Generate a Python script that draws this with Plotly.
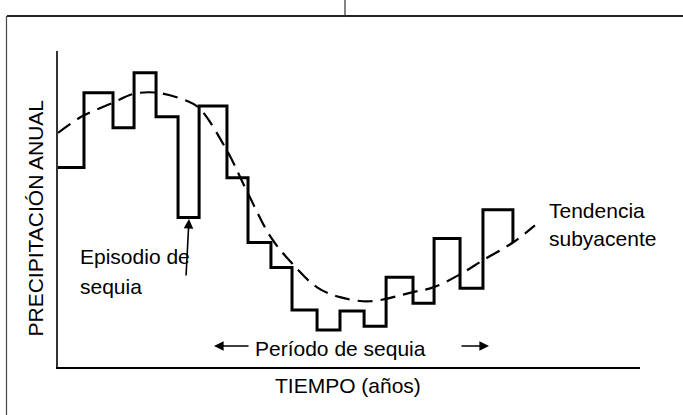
import plotly.graph_objects as go

# year boundaries of the annual steps and annual values
year_edges = [0, 1.11, 2.35, 3.25, 4.19, 5.13, 6.03, 7.22, 8.12, 9.10, 10.0,
              11.07, 12.05, 13.08, 14.02, 15.17, 16.07, 17.18, 18.16, 19.44]
annual_precip = [63.1, 86.8, 75.7, 93.1, 79.2, 47.3, 82.6, 59.9, 39.4, 31.5,
                 18.0, 11.7, 17.7, 12.9, 28.4, 20.2, 40.7, 24.9, 49.8, 39.4]

# underlying trend (dashed curve)
trend_x = [0, 1.07, 2.35, 3.21, 4.23, 5.51, 6.03, 7.22, 8.12, 9.10, 10.0,
           11.07, 12.05, 13.33, 15.17, 16.03, 17.18, 18.16, 19.44, 20.38]
trend_y = [74.1, 79.5, 83.6, 86.4, 86.8, 84.2, 82.0, 68.5, 54.9, 41.0, 32.8,
           25.2, 22.1, 20.8, 23.7, 25.2, 29.3, 33.8, 39.4, 44.8]

W, H = 683, 415
L, R, T, B = 58, 43, 51, 48


# page pixel -> paper coords
def px(p):
    return (p - L) / (W - L - R)


def py(p):
    return (H - B - p) / (H - T - B)


font = dict(family="Liberation Sans, Arial, sans-serif", color="black", size=21)

fig = go.Figure()
fig.add_trace(go.Scatter(x=trend_x, y=trend_y, mode='lines', line_shape='spline',
                         line=dict(color='black', width=2.2, dash='15px,8px'),
                         showlegend=False, hoverinfo='skip'))
fig.add_trace(go.Scatter(x=year_edges, y=annual_precip, mode='lines', line_shape='hv',
                         line=dict(color='black', width=3),
                         showlegend=False))

ann = []
ann.append(dict(text="PRECIPITACIÓN ANUAL", textangle=-90, x=px(35), y=py(218.5)))
ann.append(dict(text="TIEMPO (años)", x=px(347.5), y=py(385)))
ann.append(dict(text="Período de sequia", x=px(340), y=py(348)))
ann.append(dict(text="Episodio de", x=px(78), y=py(256), xanchor='left'))
ann.append(dict(text="sequia", x=px(78), y=py(286), xanchor='left'))
ann.append(dict(text="Tendencia", x=px(547), y=py(210), xanchor='left'))
ann.append(dict(text="subyacente", x=px(547), y=py(238), xanchor='left'))
for a in ann:
    a.setdefault('xanchor', 'center')
    a.update(xref='paper', yref='paper', yanchor='middle', showarrow=False, font=font)

# arrows
arrow = dict(xref='paper', yref='paper', text='', showarrow=True, arrowhead=2,
             arrowsize=1.2, arrowwidth=1.6, arrowcolor='black')
ann.append(dict(arrow, x=px(189), y=py(219), ax=-3, ay=58))
ann.append(dict(arrow, x=px(214), y=py(346), ax=36, ay=0))
ann.append(dict(arrow, x=px(489), y=py(346), ax=-29, ay=0))

# scanned page border
shapes = [
    dict(type='line', xref='paper', yref='paper', x0=px(7), x1=px(683), y0=py(16), y1=py(16),
         line=dict(color='#222', width=2)),
    dict(type='line', xref='paper', yref='paper', x0=px(6.5), x1=px(6.5), y0=py(16), y1=py(415),
         line=dict(color='#444', width=1.2)),
    dict(type='line', xref='paper', yref='paper', x0=px(345), x1=px(345), y0=py(0), y1=py(17),
         line=dict(color='#333', width=1.2)),
]

fig.update_layout(
    width=W, height=H,
    margin=dict(l=L, r=R, t=T, b=B),
    plot_bgcolor='white', paper_bgcolor='white',
    annotations=ann, shapes=shapes,
    xaxis=dict(range=[0, 24.87], showgrid=False, zeroline=False, showticklabels=False,
               ticks='', showline=True, linecolor='black', linewidth=2),
    yaxis=dict(range=[0, 100], showgrid=False, zeroline=False, showticklabels=False,
               ticks='', showline=True, linecolor='#333', linewidth=1.5),
)

fig.write_html("out.html", config={'displayModeBar': False},
               post_script="document.body.style.margin='0';document.body.style.overflow='hidden';")
